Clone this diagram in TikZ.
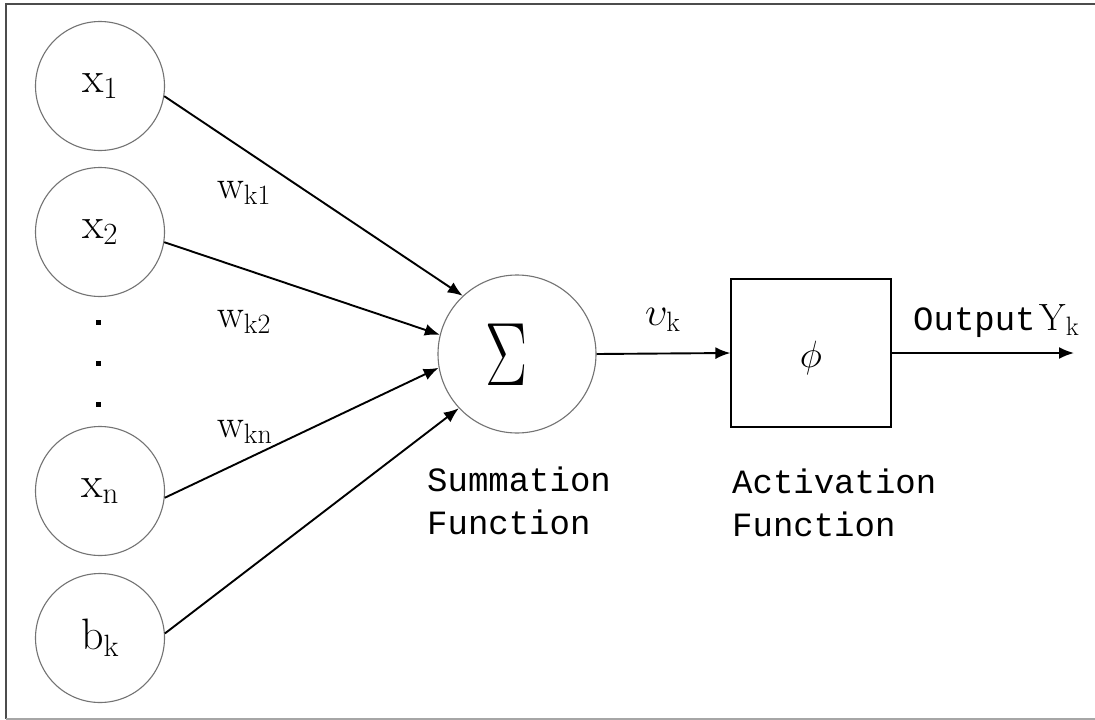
\RequirePackage{fix-cm}
\documentclass[tikz,border=0pt]{standalone}
\usepackage{fontspec}
\usepackage{graphicx}
\usetikzlibrary{arrows.meta}
\newfontfamily\monofont{Liberation Mono}
\tikzset{
  inp/.style={circle, draw=black!55, line width=1.1pt, minimum size=129pt, inner sep=0pt, font=\fontsize{44}{50}\selectfont},
  wlab/.style={anchor=base west, inner sep=0pt, font=\fontsize{40}{46}\selectfont},
  mono/.style={anchor=base west, inner sep=0pt, font=\monofont\fontsize{34}{43}\selectfont},
  conn/.style={line width=1.9pt, -{Latex[length=15pt,width=12pt]}},
  dotsq/.style={fill=black, minimum size=5pt, inner sep=0pt}
}
\begin{document}
\begin{tikzpicture}[x=1pt,y=-1pt]
\useasboundingbox (0,0) rectangle (1095,720);
\fill[white] (0,0) rectangle (1095,720);
\draw[black!70, line width=2pt] (1095,4) -- (6,4) -- (6,719);
\draw[black!35, line width=1.5pt] (6,719) -- (1095,719);

\node[inp] (x1) at (100,86) {$\mathrm{x}_1$};
\node[inp] (x2) at (100,232) {$\mathrm{x}_2$};
\node[inp] (xn) at (100,491) {$\mathrm{x}_\mathrm{n}$};
\node[inp] (bk) at (100,638) {$\mathrm{b}_\mathrm{k}$};
\node[dotsq] (d1) at (98,322) {};
\node[dotsq] (d2) at (98,363) {};
\node[dotsq] (d3) at (98,404) {};

\node[circle, draw=black!55, line width=1.1pt, minimum size=158pt, inner sep=0pt] (sum) at (517,354) {};
\node[inner sep=0pt, font=\fontsize{90}{92}\selectfont] (sig) at (507,355) {\scalebox{0.7}[1]{$\Sigma$}};
\node[draw, line width=1.3pt, minimum width=160pt, minimum height=148pt, inner sep=0pt] (box) at (811,353) {};
\node[inner sep=0pt, font=\fontsize{38}{40}\selectfont] (phi) at (811,358) {$\phi$};

\draw[conn] (x1.-9) -- (sum.133);
\draw[conn] (x2.-9) -- (sum.166);
\draw[conn] (xn.-6) -- (sum.190);
\draw[conn] (bk.4) -- (sum.223);
\draw[conn] (sum.east) -- (box.west);
\coordinate (out) at (1074,353);
\draw[conn] (box.east) -- (out);

\node[wlab] (w1) at (217,198) {$\mathrm{w}_\mathrm{k1}$};
\node[wlab] (w2) at (217,327) {$\mathrm{w}_\mathrm{k2}$};
\node[wlab] (wn) at (217,437) {$\mathrm{w}_\mathrm{kn}$};
\node[wlab] (v) at (645,325) {$\upsilon_\mathrm{k}$};
\node[mono] (outl) at (913,330) {Output\hspace{4pt}{\fontsize{38}{40}\selectfont$\mathrm{Y}_\mathrm{k}$}};
\node[mono] (s1) at (427,491) {Summation};
\node[mono] (s2) at (427,534) {Function};
\node[mono] (a1) at (732,493) {Activation};
\node[mono] (a2) at (732,536) {Function};
\end{tikzpicture}
\end{document}
